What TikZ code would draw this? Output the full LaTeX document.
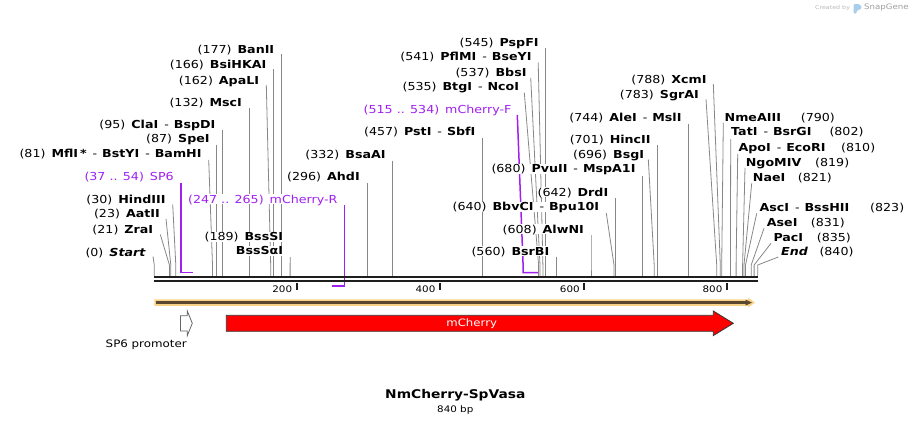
\documentclass[tikz,border=0pt]{standalone}
\usepackage{fontspec}
\setmainfont[FakeStretch=1.15]{DejaVu Sans}
\usetikzlibrary{calc,backgrounds}

\definecolor{cutgray}{RGB}{135,135,135}
\definecolor{seqblack}{RGB}{30,30,30}
\definecolor{primerpurple}{RGB}{160,32,240}
\definecolor{featorange}{RGB}{250,210,135}
\definecolor{featbrown}{RGB}{90,72,48}
\definecolor{cherryred}{RGB}{255,0,0}
\definecolor{creditgray}{RGB}{185,185,185}
\definecolor{logoblue}{RGB}{170,205,235}

\newcommand{\bpnum}[1]{{\mdseries(#1)}\hspace{6pt}}
\newcommand{\orsep}{\hspace{6pt}{\mdseries -}\hspace{5pt}}

\tikzset{
    enzlabel/.style={font=\fontsize{11}{13}\selectfont\bfseries, inner sep=0pt, text height=9pt, text depth=1pt, fill=white},
    lsite/.style={enzlabel, anchor=east},
    rsite/.style={enzlabel, anchor=west},
    rnum/.style={enzlabel, font=\fontsize{11}{13}\selectfont, anchor=west},
    primerlabel/.style={enzlabel, font=\fontsize{11}{13}\selectfont, text=primerpurple, anchor=east},
    cutline/.style={draw=cutgray, line width=0.8pt},
    primerline/.style={draw=primerpurple, line width=1.5pt},
    seqline/.style={draw=seqblack},
    tickmark/.style={draw=seqblack, line width=2pt},
    rulerlabel/.style={font=\fontsize{9}{11}\selectfont, inner sep=0pt, anchor=east}
}

\begin{document}
\begin{tikzpicture}[x=1pt,y=-1pt]
                \useasboundingbox (0,0) rectangle (912,426);

                % sites on the sequence
                \coordinate (s0) at (154.3,276);
                \coordinate (s21) at (169.4,276);
                \coordinate (s23) at (170.8,276);
                \coordinate (s30) at (175.8,276);
                \coordinate (s81) at (212.5,276);
                \coordinate (s87) at (216.8,276);
                \coordinate (s95) at (222.5,276);
                \coordinate (s132) at (249.1,276);
                \coordinate (s162) at (270.7,276);
                \coordinate (s166) at (273.5,276);
                \coordinate (s177) at (281.4,276);
                \coordinate (s189) at (290.1,276);
                \coordinate (s296) at (366.9,276);
                \coordinate (s332) at (392.8,276);
                \coordinate (s457) at (482.6,276);
                \coordinate (s535) at (538.6,276);
                \coordinate (s537) at (540.0,276);
                \coordinate (s541) at (542.9,276);
                \coordinate (s545) at (545.8,276);
                \coordinate (s560) at (556.5,276);
                \coordinate (s608) at (591.0,276);
                \coordinate (s640) at (614.0,276);
                \coordinate (s642) at (615.4,276);
                \coordinate (s680) at (642.7,276);
                \coordinate (s696) at (654.2,276);
                \coordinate (s701) at (657.8,276);
                \coordinate (s744) at (688.7,276);
                \coordinate (s783) at (716.7,276);
                \coordinate (s788) at (720.3,276);
                \coordinate (s790) at (721.7,276);
                \coordinate (s802) at (730.4,276);
                \coordinate (s810) at (736.1,276);
                \coordinate (s819) at (742.6,276);
                \coordinate (s821) at (744.0,276);
                \coordinate (s823) at (745.5,276);
                \coordinate (s831) at (751.2,276);
                \coordinate (s835) at (754.1,276);
                \coordinate (s840) at (757.7,276);

                % primer ends
                \coordinate (p37) at (180.9,272.7);
                \coordinate (p54) at (193.1,272.7);
                \coordinate (p515) at (523.0,272.7);
                \coordinate (p534) at (537.9,272.7);
                \coordinate (p265) at (344.7,286);
                \coordinate (p247) at (331.7,286);

                % labels left of their sites
                \node[lsite] (Start) at (146,252) {\bpnum{0}\textit{Start}};
                \node[lsite] (ZraI) at (153.3,229) {\bpnum{21}ZraI};
                \node[lsite] (AatII) at (160,213.3) {\bpnum{23}AatII};
                \node[lsite] (HindIII) at (165.7,199) {\bpnum{30}HindIII};
                \node[lsite] (MflI) at (201.7,153.3) {\bpnum{81}MflI\,*\orsep BstYI\orsep BamHI};
                \node[lsite] (SpeI) at (209.8,138.3) {\bpnum{87}SpeI};
                \node[lsite] (ClaI) at (215.5,124.3) {\bpnum{95}ClaI\orsep BspDI};
                \node[lsite] (MscI) at (242.1,102.7) {\bpnum{132}MscI};
                \node[lsite] (ApaLI) at (259.3,80) {\bpnum{162}ApaLI};
                \node[lsite] (BsiHKAI) at (266.5,64.3) {\bpnum{166}BsiHKAI};
                \node[lsite] (BanII) at (274.4,49.3) {\bpnum{177}BanII};
                \node[lsite] (BssSI) at (283.3,236.7) {\bpnum{189}BssSI};
                \node[lsite] (BssSaI) at (283.3,250.7) {BssSαI};
                \node[lsite] (AhdI) at (359.9,176.7) {\bpnum{296}AhdI};
                \node[lsite] (BsaAI) at (385.8,154) {\bpnum{332}BsaAI};
                \node[lsite] (PstI) at (475.6,131.7) {\bpnum{457}PstI\orsep SbfI};
                \node[lsite] (BtgI) at (519.3,86.7) {\bpnum{535}BtgI\orsep NcoI};
                \node[lsite] (BbsI) at (526.7,72.3) {\bpnum{537}BbsI};
                \node[lsite] (PflMI) at (531.7,56) {\bpnum{541}PflMI\orsep BseYI};
                \node[lsite] (PspFI) at (538.8,42.7) {\bpnum{545}PspFI};
                \node[lsite] (BsrBI) at (549.5,251) {\bpnum{560}BsrBI};
                \node[lsite] (AlwNI) at (584,229) {\bpnum{608}AlwNI};
                \node[lsite] (BbvCI) at (599.3,206.7) {\bpnum{640}BbvCI\orsep Bpu10I};
                \node[lsite] (DrdI) at (608.4,192.3) {\bpnum{642}DrdI};
                \node[lsite] (PvuII) at (635.7,168.5) {\bpnum{680}PvuII\orsep MspA1I};
                \node[lsite] (BsgI) at (644.3,154.3) {\bpnum{696}BsgI};
                \node[lsite] (HincII) at (650.8,139.3) {\bpnum{701}HincII};
                \node[lsite] (AleI) at (681.7,117.7) {\bpnum{744}AleI\orsep MslI};
                \node[lsite] (SgrAI) at (699,94) {\bpnum{783}SgrAI};
                \node[lsite] (XcmI) at (706.7,79) {\bpnum{788}XcmI};

                % labels right of their sites
                \node[rsite] (NmeAIII) at (724.5,117.3) {NmeAIII};
                \node[rnum] (NmeAIII-n) at (800.7,117.3) {(790)};
                \node[rsite] (TatI) at (731,131.7) {TatI\orsep BsrGI};
                \node[rnum] (TatI-n) at (829.3,131.7) {(802)};
                \node[rsite] (ApoI) at (738.3,147.3) {ApoI\orsep EcoRI};
                \node[rnum] (ApoI-n) at (841,147.3) {(810)};
                \node[rsite] (NgoMIV) at (745.7,162.3) {NgoMIV};
                \node[rnum] (NgoMIV-n) at (815,162.3) {(819)};
                \node[rsite] (NaeI) at (752.7,177.3) {NaeI};
                \node[rnum] (NaeI-n) at (797.7,177.3) {(821)};
                \node[rsite] (AscI) at (759.3,207.7) {AscI\orsep BssHII};
                \node[rnum] (AscI-n) at (870,207.7) {(823)};
                \node[rsite] (AseI) at (766.7,222.3) {AseI};
                \node[rnum] (AseI-n) at (810.7,222.3) {(831)};
                \node[rsite] (PacI) at (773.3,237.3) {PacI};
                \node[rnum] (PacI-n) at (816.7,237.3) {(835)};
                \node[rsite] (End) at (781,251.7) {\textit{End}};
                \node[rnum] (End-n) at (819.3,251.7) {(840)};

                % primers
                \node[primerlabel] (SP6) at (173.9,176.7) {(37 .. 54)\hspace{6pt}SP6};
                \node[primerlabel] (mCherryR) at (337.7,199) {(247 .. 265)\hspace{6pt}mCherry-R};
                \node[primerlabel] (mCherryF) at (511.7,109.3) {(515 .. 534)\hspace{6pt}mCherry-F};

                \begin{pgfonlayer}{background}
                \draw[primerline] ($(SP6.east)+(7,6.5)$) -- (p37) -- (p54);
                \draw[primerline] ($(mCherryR.east)+(7,6)$) -- (p265) -- (p247);
                \draw[primerline] ($(mCherryF.east)+(5.6,5.7)$) -- ($(p515)+(0,-10)$) -- (p515) -- (p534);

                % cut lines
                \draw[cutline] ($(Start.east)+(7,4.5)$) -- ($(s0)+(0,-11)$) -- (s0);
                \draw[cutline] ($(ZraI.east)+(7,5.5)$) -- ($(s21)+(0,-11)$) -- (s21);
                \draw[cutline] ($(AatII.east)+(6,5.5)$) -- ($(s23)+(0,-11)$) -- (s23);
                \draw[cutline] ($(HindIII.east)+(7,5.5)$) -- ($(s30)+(0,-11)$) -- (s30);
                \draw[cutline] ($(MflI.east)+(7,6.5)$) -- ($(s81)+(0,-11)$) -- (s81);
                \draw[cutline] ($(SpeI.east)+(7,6.5)$) -- ($(s87)+(0,-11)$) -- (s87);
                \draw[cutline] ($(ClaI.east)+(7,5.5)$) -- ($(s95)+(0,-11)$) -- (s95);
                \draw[cutline] ($(MscI.east)+(7,5.5)$) -- ($(s132)+(0,-11)$) -- (s132);
                \draw[cutline] ($(ApaLI.east)+(7,5)$) -- ($(s162)+(0,-11)$) -- (s162);
                \draw[cutline] ($(BsiHKAI.east)+(7,5)$) -- ($(s166)+(0,-11)$) -- (s166);
                \draw[cutline] ($(BanII.east)+(7,5)$) -- ($(s177)+(0,-11)$) -- (s177);
                \draw[cutline] ($(BssSaI.east)+(7,6.5)$) -- ($(s189)+(0,-11)$) -- (s189);
                \draw[cutline] ($(AhdI.east)+(7,6.5)$) -- ($(s296)+(0,-11)$) -- (s296);
                \draw[cutline] ($(BsaAI.east)+(7,6.5)$) -- ($(s332)+(0,-11)$) -- (s332);
                \draw[cutline] ($(PstI.east)+(7,6.5)$) -- ($(s457)+(0,-11)$) -- (s457);
                \draw[cutline] ($(BtgI.east)+(5,6)$) -- ($(s535)+(0,-11)$) -- (s535);
                \draw[cutline] ($(BbsI.east)+(4,5.5)$) -- ($(s537)+(0,-11)$) -- (s537);
                \draw[cutline] ($(PflMI.east)+(6.5,6.5)$) -- ($(s541)+(0,-11)$) -- (s541);
                \draw[cutline] ($(PspFI.east)+(7,5.5)$) -- ($(s545)+(0,-11)$) -- (s545);
                \draw[cutline] ($(BsrBI.east)+(7,5.5)$) -- ($(s560)+(0,-11)$) -- (s560);
                \draw[cutline] ($(AlwNI.east)+(7,6)$) -- ($(s608)+(0,-11)$) -- (s608);
                \draw[cutline] ($(BbvCI.east)+(7,6.5)$) -- ($(s640)+(0,-11)$) -- (s640);
                \draw[cutline] ($(DrdI.east)+(7,6)$) -- ($(s642)+(0,-11)$) -- (s642);
                \draw[cutline] ($(PvuII.east)+(7,7.5)$) -- ($(s680)+(0,-11)$) -- (s680);
                \draw[cutline] ($(BsgI.east)+(4,5)$) -- ($(s696)+(0,-11)$) -- (s696);
                \draw[cutline] ($(HincII.east)+(7,5.7)$) -- ($(s701)+(0,-11)$) -- (s701);
                \draw[cutline] ($(AleI.east)+(7,6.3)$) -- ($(s744)+(0,-11)$) -- (s744);
                \draw[cutline] ($(SgrAI.east)+(7,5.3)$) -- ($(s783)+(0,-11)$) -- (s783);
                \draw[cutline] ($(XcmI.east)+(6.6,5)$) -- ($(s788)+(0,-11)$) -- (s788);
                \draw[cutline] ($(NmeAIII.west)+(-1.2,5.4)$) -- ($(s790)+(0,-11)$) -- (s790);
                \draw[cutline] ($(TatI.west)+(-0.3,7.3)$) -- ($(s802)+(0,-11)$) -- (s802);
                \draw[cutline] ($(ApoI.west)+(-0.6,6.7)$) -- ($(s810)+(0,-11)$) -- (s810);
                \draw[cutline] ($(NgoMIV.west)+(-0.7,5.5)$) -- ($(s819)+(0,-11)$) -- (s819);
                \draw[cutline] ($(NaeI.west)+(-1,6)$) -- ($(s821)+(0,-11)$) -- (s821);
                \draw[cutline] ($(AscI.west)+(-2.6,5.6)$) -- ($(s823)+(0,-11)$) -- (s823);
                \draw[cutline] ($(AseI.west)+(-2.7,6)$) -- ($(s831)+(0,-11)$) -- (s831);
                \draw[cutline] ($(PacI.west)+(-2.3,6)$) -- ($(s835)+(0,-11)$) -- (s835);
                \draw[cutline] ($(End.west)+(-2.7,5.3)$) -- ($(s840)+(0,-11)$) -- (s840);
                \end{pgfonlayer}

                % sequence and ruler
                \draw[seqline, line width=2.7pt] (154.3,277) -- (757.7,277);
                \draw[seqline, line width=2.3pt] (154.3,281.2) -- (757.7,281.2);
                \draw[tickmark] (296.7,282.5) -- (296.7,289.5);
                \draw[tickmark] (440,282.5) -- (440,289.5);
                \draw[tickmark] (584.3,282.5) -- (584.3,289.5);
                \draw[tickmark] (727,282.5) -- (727,289.5);
                \node[rulerlabel] (r200) at (292.3,289) {200};
                \node[rulerlabel] (r400) at (435.6,289) {400};
                \node[rulerlabel] (r600) at (579.9,289) {600};
                \node[rulerlabel] (r800) at (722.6,289) {800};

                % features
                \fill[featorange] (154.3,299.3) -- (748,299.3) -- (748,297.8) -- (755,302.6) -- (748,307.4) -- (748,305.9) -- (154.3,305.9) -- cycle;
                \draw[featbrown, line width=2.4pt] (155.5,302.6) -- (747,302.6);
                \fill[featbrown] (745.5,299.6) -- (752,302.6) -- (745.5,305.6) -- cycle;

                \draw[draw=gray!80!black, fill=white, line width=0.8pt] (180.5,315.7) -- (187.3,315.7) -- (187.3,311) -- (192.3,323.3) -- (187.3,335.6) -- (187.3,331) -- (180.5,331) -- cycle;
                \node[font=\fontsize{10.3}{12}\selectfont] (SP6prom) at (146.2,345) {SP6 promoter};

                \draw[draw=seqblack!90, fill=cherryred, line width=0.8pt] (226.3,315.3) -- (713.3,315.3) -- (713.3,311) -- (733.3,323.3) -- (713.3,335.6) -- (713.3,331.3) -- (226.3,331.3) -- cycle;
                \node[text=white, font=\fontsize{10.2}{12}\selectfont] (mCherry) at (471.7,323.3) {mCherry};

                % title
                \node[font=\fontsize{12}{14}\selectfont\bfseries] (title) at (455.3,395) {NmCherry-SpVasa};
                \node[font=\fontsize{9}{11}\selectfont] (length) at (455.3,410) {840 bp};

                % credit
                \node[font=\fontsize{5.5}{6}\selectfont, text=creditgray, anchor=west, inner sep=0pt] (credit) at (815,7.5) {Created by};
                \fill[logoblue, rounded corners=1pt] (853.5,4) -- (859,4) -- (861.5,6.5) -- (861.5,8.5) -- (856.5,11) -- (856.5,13.5) -- (853.5,13.5) -- cycle;
                \node[font=\fontsize{7.5}{8}\selectfont, text=creditgray!85!black, anchor=west, inner sep=0pt] (snapgene) at (864,7.5) {SnapGene};
            \end{tikzpicture}
\end{document}
